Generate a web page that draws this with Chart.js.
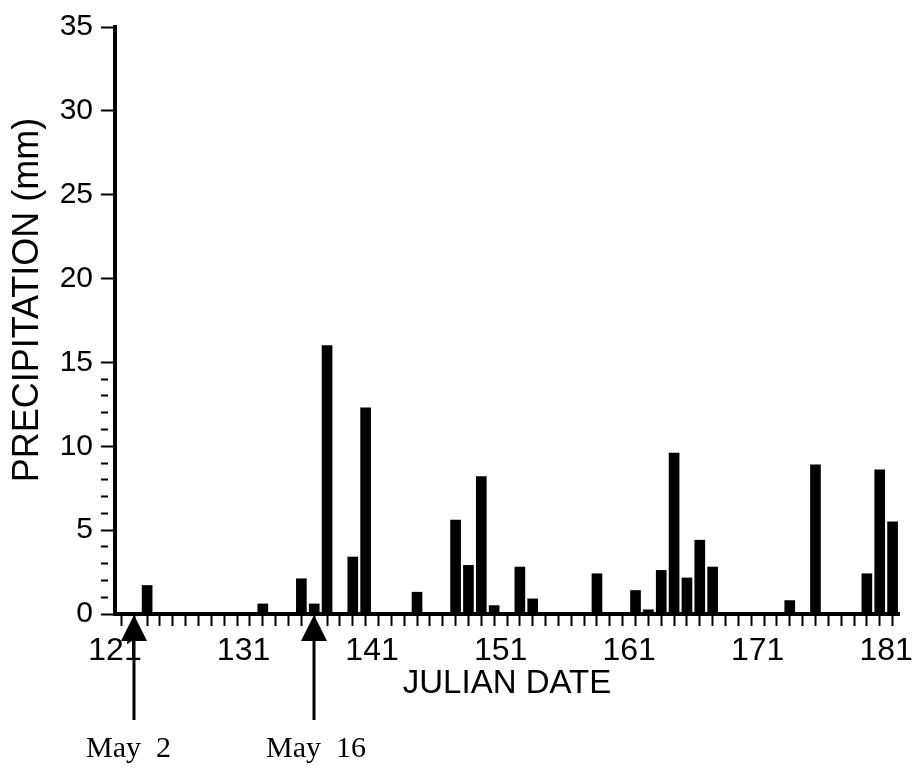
<!DOCTYPE html>
<html>
<head>
<meta charset="utf-8">
<title>Precipitation by Julian date</title>
<script src="https://cdn.jsdelivr.net/npm/chart.js@4.4.1/dist/chart.umd.min.js"></script>
<style>
    html, body { margin: 0; padding: 0; background: #fff; }
    #wrap { width: 915px; height: 772px; position: relative; }
</style>
</head>
<body>
<div id="wrap"><canvas id="precip-chart"></canvas></div>
<script>
// daily precipitation (mm) by Julian date
const rainDays = [123, 132, 135, 136, 137, 139, 140, 144, 147, 148, 149, 150, 152, 153,
    158, 161, 162, 163, 164, 165, 166, 167, 173, 175, 179, 180, 181];
const rainMm = [1.7, 0.6, 2.1, 0.6, 16.0, 3.4, 12.3, 1.3, 5.6, 2.9, 8.2, 0.5, 2.8, 0.9,
    2.4, 1.4, 0.25, 2.6, 9.6, 2.15, 4.4, 2.8, 0.8, 8.9, 2.4, 8.6, 5.5];

// axis ticks
const xFirstDay = 121;
const xLastDay = 182;
const xLabelDays = [121, 131, 141, 151, 161, 171, 181];
const yTickValues = [0, 1, 2, 3, 4, 5, 6, 7, 8, 9, 10, 11, 12, 13, 14, 15, 20, 25, 30, 35];
const yLabelValues = [0, 5, 10, 15, 20, 25, 30, 35];

// marked dates under the axis
const markDays = [122, 136];
const markLabels = ['May  2', 'May  16'];

const SANS = '"Liberation Sans", Arial, Helvetica, sans-serif';

const markersPlugin = {
    id: 'markers',
    afterDraw(chart) {
        const ctx = chart.ctx;
        const x = chart.scales.x;
        ctx.save();

        // y axis title
        ctx.translate(28, 300);
        ctx.rotate(-Math.PI / 2);
        ctx.fillStyle = '#000';
        ctx.font = '36px ' + SANS;
        ctx.textAlign = 'center';
        ctx.textBaseline = 'middle';
        ctx.fillText('PRECIPITATION (mm)', 0, 0);
        ctx.setTransform(1, 0, 0, 1, 0, 0);

        // arrows with date labels
        markDays.forEach((d, i) => {
            const px = Math.round(x.getPixelForValue(d + 0.5));
            ctx.fillStyle = '#000';
            ctx.beginPath();
            ctx.moveTo(px, 615);
            ctx.lineTo(px - 13, 641);
            ctx.lineTo(px + 13, 641);
            ctx.closePath();
            ctx.fill();
            ctx.fillRect(px - 1.5, 640, 3, 80);

            ctx.font = '30px "Liberation Serif", "Times New Roman", serif';
            ctx.textAlign = 'left';
            ctx.textBaseline = 'alphabetic';
            ctx.fillText(markLabels[i], px - 48, 757);
        });
        ctx.restore();
    }
};

new Chart(document.getElementById('precip-chart').getContext('2d'), {
    type: 'bar',
    data: {
        datasets: [{
            label: 'Precipitation (mm)',
            data: rainDays.map((d, i) => ({ x: d + 0.5, y: rainMm[i] })),
            backgroundColor: '#000',
            borderWidth: 0,
            barThickness: 10
        }]
    },
    options: {
        responsive: true,
        maintainAspectRatio: false,
        animation: false,
        layout: { padding: { top: 27, right: 16, bottom: 0, left: 0 } },
        plugins: {
            legend: { display: false },
            tooltip: { enabled: false }
        },
        scales: {
            x: {
                type: 'linear',
                offset: false,
                min: xFirstDay,
                max: xLastDay,
                afterBuildTicks: scale => {
                    const t = [];
                    for (let d = xFirstDay; d <= xLastDay; d++) t.push({ value: d });
                    scale.ticks = t;
                },
                afterFit: scale => { scale.height = 158; },
                ticks: {
                    autoSkip: false,
                    maxRotation: 0,
                    padding: 6,
                    color: '#000',
                    font: { family: SANS, size: 32 },
                    callback: v => xLabelDays.includes(v) ? String(v) : ''
                },
                grid: {
                    drawOnChartArea: false,
                    tickLength: 12,
                    tickWidth: 2,
                    tickColor: '#000'
                },
                border: { color: '#000', width: 4 },
                title: {
                    display: true,
                    text: 'JULIAN DATE',
                    color: '#000',
                    font: { family: SANS, size: 33 },
                    padding: { top: 0, bottom: 68 }
                }
            },
            y: {
                min: 0,
                max: 35,
                afterBuildTicks: scale => {
                    scale.ticks = yTickValues.map(v => ({ value: v }));
                },
                afterFit: scale => { scale.width = 115; },
                ticks: {
                    autoSkip: false,
                    padding: 8,
                    color: '#000',
                    font: { family: SANS, size: 30 },
                    callback: v => yLabelValues.includes(v) ? String(v) : ''
                },
                grid: {
                    drawOnChartArea: false,
                    tickLength: 14,
                    tickWidth: 2,
                    tickColor: '#000',
                    tickBorderDash: ctx => yLabelValues.includes(ctx.tick.value) ? [] : [7, 100]
                },
                border: { color: '#000', width: 4 }
            }
        }
    },
    plugins: [markersPlugin]
});
</script>
</body>
</html>
